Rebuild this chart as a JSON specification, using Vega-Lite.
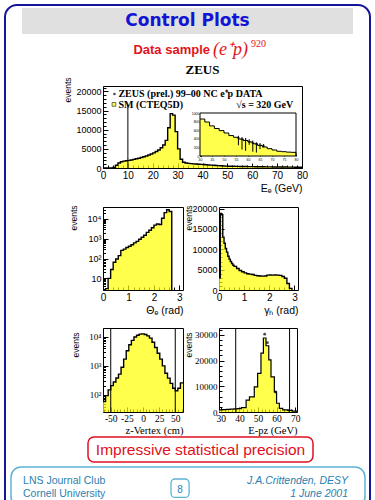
{
"$schema": "https://vega.github.io/schema/vega-lite/v6.json",
"padding": {"left": 4, "top": 0, "right": 0, "bottom": 0},
"background": "white",
"config": {
  "view": {"stroke": "black", "strokeWidth": 1},
  "font": "Liberation Sans",
  "axis": {"grid": false, "domain": false, "labelFont": "Liberation Sans", "titleFont": "Liberation Sans", "labelColor": "black", "titleColor": "black", "tickColor": "black", "titleFontWeight": "normal", "labelFlush": false, "labelOverlap": false, "labelBound": false, "tickWidth": 1},
  "axisLeft": {"titleAngle": 270, "titleAlign": "right", "titleBaseline": "bottom", "titleFontSize": 8.5},
  "concat": {"spacing": 0}
},
"datasets": {
  "ee": [{"x":0,"n":0},{"x":1,"n":0},{"x":2,"n":0},{"x":3,"n":20},{"x":4,"n":150},{"x":5,"n":700},{"x":6,"n":1300},{"x":7,"n":1650},{"x":8,"n":1800},{"x":9,"n":1900},{"x":10,"n":2000},{"x":11,"n":2100},{"x":12,"n":2250},{"x":13,"n":2400},{"x":14,"n":2550},{"x":15,"n":2750},{"x":16,"n":2950},{"x":17,"n":3150},{"x":18,"n":3400},{"x":19,"n":3650},{"x":20,"n":3950},{"x":21,"n":4300},{"x":22,"n":4700},{"x":23,"n":5300},{"x":24,"n":6000},{"x":25,"n":7200},{"x":26,"n":10500},{"x":27,"n":14200},{"x":28,"n":13800},{"x":29,"n":9500},{"x":30,"n":5000},{"x":31,"n":2300},{"x":32,"n":1500},{"x":33,"n":1300},{"x":34,"n":1200},{"x":35,"n":1130},{"x":36,"n":1080},{"x":37,"n":1030},{"x":38,"n":990},{"x":39,"n":950},{"x":40,"n":920},{"x":41,"n":860},{"x":42,"n":800},{"x":43,"n":750},{"x":44,"n":700},{"x":45,"n":650},{"x":46,"n":610},{"x":47,"n":570},{"x":48,"n":530},{"x":49,"n":500},{"x":50,"n":470},{"x":51,"n":455},{"x":52,"n":440},{"x":53,"n":425},{"x":54,"n":412},{"x":55,"n":400},{"x":56,"n":390},{"x":57,"n":380},{"x":58,"n":370},{"x":59,"n":360},{"x":60,"n":350},{"x":61,"n":340},{"x":62,"n":330},{"x":63,"n":320},{"x":64,"n":310},{"x":65,"n":300},{"x":66,"n":292},{"x":67,"n":284},{"x":68,"n":276},{"x":69,"n":268},{"x":70,"n":260},{"x":71,"n":254},{"x":72,"n":248},{"x":73,"n":242},{"x":74,"n":236},{"x":75,"n":230},{"x":76,"n":222},{"x":77,"n":215},{"x":78,"n":208},{"x":79,"n":200},{"x":80,"n":0}],
  "inset": [{"x":40,"n":860},{"x":42,"n":790},{"x":44,"n":700},{"x":46,"n":640},{"x":48,"n":590},{"x":50,"n":535},{"x":52,"n":475},{"x":54,"n":435},{"x":56,"n":395},{"x":58,"n":360},{"x":60,"n":325},{"x":62,"n":285},{"x":64,"n":245},{"x":66,"n":210},{"x":68,"n":170},{"x":70,"n":140},{"x":72,"n":110},{"x":74,"n":100},{"x":76,"n":90},{"x":78,"n":85},{"x":80,"n":0}],
  "insetpts": [{"x":56,"v":420,"lo":250,"hi":470},{"x":57.5,"v":390,"lo":150,"hi":440},{"x":59,"v":365,"lo":120,"hi":420},{"x":60.5,"v":335,"lo":260,"hi":390},{"x":62,"v":305,"lo":100,"hi":360},{"x":63.5,"v":275,"lo":80,"hi":320},{"x":65,"v":255,"lo":160,"hi":300},{"x":66.5,"v":232,"lo":200,"hi":280}],
  "theta": [{"x":0,"n":1},{"x":0.1,"n":3},{"x":0.2,"n":10},{"x":0.3,"n":28},{"x":0.4,"n":65},{"x":0.5,"n":95},{"x":0.6,"n":140},{"x":0.7,"n":260},{"x":0.8,"n":300},{"x":0.9,"n":360},{"x":1.0,"n":420},{"x":1.1,"n":500},{"x":1.2,"n":620},{"x":1.3,"n":740},{"x":1.4,"n":950},{"x":1.5,"n":1200},{"x":1.6,"n":1500},{"x":1.7,"n":2100},{"x":1.8,"n":2700},{"x":1.9,"n":3600},{"x":2.0,"n":4900},{"x":2.1,"n":5600},{"x":2.2,"n":5300},{"x":2.3,"n":11000},{"x":2.4,"n":21000},{"x":2.5,"n":29500},{"x":2.6,"n":24000},{"x":2.7,"n":1}],
  "gamma": [{"x":0,"n":3000},{"x":0.05,"n":18800},{"x":0.1,"n":18500},{"x":0.15,"n":13000},{"x":0.2,"n":11500},{"x":0.25,"n":10200},{"x":0.3,"n":9300},{"x":0.35,"n":8300},{"x":0.4,"n":7600},{"x":0.45,"n":7000},{"x":0.5,"n":6500},{"x":0.55,"n":6100},{"x":0.6,"n":5800},{"x":0.7,"n":5300},{"x":0.8,"n":4800},{"x":0.9,"n":4500},{"x":1.0,"n":4200},{"x":1.1,"n":4000},{"x":1.2,"n":3900},{"x":1.3,"n":3800},{"x":1.4,"n":3600},{"x":1.5,"n":3500},{"x":1.6,"n":3450},{"x":1.7,"n":3400},{"x":1.8,"n":3450},{"x":1.9,"n":3650},{"x":2.0,"n":3700},{"x":2.1,"n":3650},{"x":2.2,"n":3700},{"x":2.3,"n":3650},{"x":2.4,"n":3600},{"x":2.5,"n":3300},{"x":2.6,"n":2900},{"x":2.7,"n":1600},{"x":2.8,"n":400},{"x":2.9,"n":0}],
  "zv": [{"x":-62,"n":60},{"x":-58,"n":95},{"x":-54,"n":150},{"x":-50,"n":210},{"x":-46,"n":280},{"x":-42,"n":385},{"x":-38,"n":520},{"x":-34,"n":900},{"x":-30,"n":1700},{"x":-26,"n":3300},{"x":-22,"n":5300},{"x":-18,"n":7500},{"x":-14,"n":9800},{"x":-10,"n":11300},{"x":-6,"n":12300},{"x":-2,"n":12600},{"x":2,"n":12000},{"x":6,"n":10700},{"x":10,"n":9000},{"x":14,"n":6500},{"x":18,"n":4300},{"x":22,"n":2700},{"x":26,"n":1700},{"x":30,"n":1000},{"x":34,"n":560},{"x":38,"n":380},{"x":42,"n":250},{"x":46,"n":170},{"x":50,"n":140},{"x":54,"n":170},{"x":58,"n":260},{"x":62,"n":260}],
  "epz": [{"x":29,"n":800},{"x":31,"n":900},{"x":33,"n":1000},{"x":35,"n":1100},{"x":37,"n":1200},{"x":39,"n":1300},{"x":41,"n":1700},{"x":43.6,"n":4600},{"x":45.4,"n":5900},{"x":48,"n":9800},{"x":49.8,"n":15000},{"x":51.6,"n":22900},{"x":52.9,"n":28800},{"x":54.3,"n":25800},{"x":55.8,"n":20300},{"x":57,"n":13700},{"x":58.8,"n":7800},{"x":60,"n":3400},{"x":61.5,"n":1400},{"x":63.3,"n":850},{"x":66,"n":600},{"x":68.5,"n":350},{"x":71,"n":0}],
  "epzpts": [{"x":53.6,"n":30300},{"x":55.1,"n":27000},{"x":59.4,"n":7800}]
},
"bounds": "flush",
"spacing": 0,
"hconcat": [
  {"bounds": "flush", "spacing": 0, "vconcat": [
    {"width": 1, "height": 3, "data": {"values": [{}]}, "mark": "text", "encoding": {"text": {"value": ""}}, "view": {"stroke": null}},
    {"bounds": "flush", "spacing": 0, "hconcat": [
      {"width": 17, "height": 1, "data": {"values": [{}]}, "mark": "text", "encoding": {"text": {"value": ""}}, "view": {"stroke": null}},
      {"width": 331, "height": 26, "data": {"values": [{"t": "Control Plots"}]}, "mark": {"type": "text", "font": "DejaVu Sans", "fontSize": 17, "fontWeight": "bold", "color": "#1414d4", "baseline": "middle"}, "encoding": {"text": {"field": "t"}}, "view": {"fill": "#e0e0e0", "stroke": null}}
    ]},
    {"width": 1, "height": 26, "data": {"values": [{}]}, "mark": "text", "encoding": {"text": {"value": ""}}, "view": {"stroke": null}},
    {"bounds": "flush", "spacing": 0, "hconcat": [
      {"width": 47, "height": 1, "data": {"values": [{}]}, "mark": "text", "encoding": {"text": {"value": ""}}, "view": {"stroke": null}},
      {"width": 318, "height": 32, "view": {"stroke": null}, "data": {"values": [{"a": "Data sample", "b": "(e⁺p)", "c": "920"}]}, "layer": [
        {"mark": {"type": "text", "font": "Liberation Sans", "fontSize": 13, "fontWeight": "bold", "color": "#e3131b", "align": "right", "baseline": "middle", "dx": -1}, "encoding": {"text": {"field": "a"}}},
        {"mark": {"type": "text", "font": "Liberation Serif", "fontSize": 18, "fontStyle": "italic", "color": "#e3131b", "align": "left", "baseline": "middle", "dx": 2}, "encoding": {"text": {"field": "b"}}},
        {"mark": {"type": "text", "font": "Liberation Serif", "fontSize": 10, "color": "#e3131b", "align": "left", "baseline": "middle", "dx": 40, "dy": -6}, "encoding": {"text": {"field": "c"}}}
      ]}
    ]},
    {"width": 1, "height": 32, "data": {"values": [{}]}, "mark": "text", "encoding": {"text": {"value": ""}}, "view": {"stroke": null}},
    {"bounds": "flush", "spacing": 0, "hconcat": [
      {"width": 98, "height": 1, "data": {"values": [{}]}, "mark": "text", "encoding": {"text": {"value": ""}}, "view": {"stroke": null}},
      {"width": 199, "height": 7, "view": {"stroke": null}, "data": {"values": [{"t": "ZEUS"}]}, "mark": {"type": "text", "font": "Liberation Serif", "fontSize": 13, "fontWeight": "bold", "color": "black", "baseline": "middle"}, "encoding": {"text": {"field": "t"}}}
    ]},
    {"width": 1, "height": 20, "data": {"values": [{}]}, "mark": "text", "encoding": {"text": {"value": ""}}, "view": {"stroke": null}},
    {"bounds": "flush", "spacing": 0, "hconcat": [
      {"width": 98, "height": 1, "data": {"values": [{}]}, "mark": "text", "encoding": {"text": {"value": ""}}, "view": {"stroke": null}},
      {"width": 199, "height": 82,
       "resolve": {"scale": {"x": "independent", "y": "independent"}, "axis": {"x": "independent", "y": "independent"}},
       "layer": [
        {"resolve": {"axis": {"x": "independent", "y": "independent"}},
         "layer": [
          {"data": {"name": "ee"}, "mark": {"type": "area", "interpolate": "step-after", "color": "#ffff00", "line": {"color": "black", "strokeWidth": 1.4}},
           "encoding": {
             "x": {"field": "x", "type": "quantitative", "scale": {"domain": [0, 80], "nice": false, "zero": false},
                   "axis": {"orient": "bottom", "values": [0,2,4,6,8,10,12,14,16,18,20,22,24,26,28,30,32,34,36,38,40,42,44,46,48,50,52,54,56,58,60,62,64,66,68,70,72,74,76,78,80], "labelExpr": "datum.value % 10 === 0 ? '' + datum.value : ''", "labelOverlap": false, "tickSize": {"condition": {"test": "datum.value % 10 === 0", "value": -5}, "value": -3}, "labelPadding": 7, "labelFontSize": 10, "title": "Eₑ (GeV)", "titleAnchor": "end", "titleFontSize": 10.5, "titlePadding": 1}},
             "y": {"field": "n", "type": "quantitative", "scale": {"domain": [0, 21400], "nice": false},
                   "axis": {"orient": "left", "values": [0,1000,2000,3000,4000,5000,6000,7000,8000,9000,10000,11000,12000,13000,14000,15000,16000,17000,18000,19000,20000,21000], "labelExpr": "datum.value % 5000 === 0 ? '' + datum.value : ''", "labelOverlap": false, "tickSize": {"condition": {"test": "datum.value % 5000 === 0", "value": -5}, "value": -3}, "labelPadding": 7, "labelFontSize": 9, "title": "events", "titleX": -31, "titleY": -9}}
           }},
          {"data": {"values": [{"c": 10, "lo": 0, "hi": 16500}]}, "mark": {"type": "rule", "color": "black", "strokeWidth": 1}, "encoding": {"x": {"field": "c", "type": "quantitative", "axis": null}, "y": {"field": "lo", "type": "quantitative", "axis": null}, "y2": {"field": "hi"}}},
          {"data": {"values": [{}]}, "mark": {"type": "point", "shape": "circle", "filled": true, "color": "black", "size": 7}, "encoding": {"x": {"datum": 4.6, "type": "quantitative", "axis": null}, "y": {"datum": 19300, "type": "quantitative", "axis": null}}},
          {"data": {"values": [{}]}, "mark": {"type": "point", "shape": "square", "filled": true, "fill": "#ffff00", "stroke": "black", "strokeWidth": 0.8, "size": 14}, "encoding": {"x": {"datum": 4.4, "type": "quantitative", "axis": null}, "y": {"datum": 16600, "type": "quantitative", "axis": null}}},
          {"data": {"values": [{"t": "ZEUS (prel.) 99–00 NC e⁺p DATA"}]}, "mark": {"type": "text", "font": "Liberation Serif", "fontSize": 10, "fontWeight": "bold", "color": "black", "align": "left", "baseline": "alphabetic"}, "encoding": {"x": {"datum": 6.2, "type": "quantitative", "axis": null}, "y": {"datum": 18500, "type": "quantitative", "axis": null}, "text": {"field": "t"}}},
          {"data": {"values": [{"t": "SM (CTEQ5D)"}]}, "mark": {"type": "text", "font": "Liberation Serif", "fontSize": 10, "fontWeight": "bold", "color": "black", "align": "left", "baseline": "alphabetic"}, "encoding": {"x": {"datum": 6.2, "type": "quantitative", "axis": null}, "y": {"datum": 15700, "type": "quantitative", "axis": null}, "text": {"field": "t"}}},
          {"data": {"values": [{"t": "√s = 320 GeV"}]}, "mark": {"type": "text", "font": "Liberation Serif", "fontSize": 10, "fontWeight": "bold", "color": "black", "align": "right", "baseline": "alphabetic"}, "encoding": {"x": {"datum": 76.5, "type": "quantitative", "axis": null}, "y": {"datum": 15700, "type": "quantitative", "axis": null}, "text": {"field": "t"}}}
        ]},
        {"resolve": {"axis": {"x": "independent", "y": "independent"}},
         "layer": [
          {"data": {"values": [{}]}, "mark": {"type": "rect", "fill": "white", "stroke": null},
           "encoding": {"x": {"datum": 40, "type": "quantitative", "scale": {"domain": [40, 80], "range": [97, 193], "nice": false, "zero": false},
                              "axis": {"orient": "bottom", "offset": -12, "values": [40,45,50,55,60,65,70,75,80], "labelExpr": "'' + datum.value", "labelOverlap": false, "labelFontSize": 3.5, "tickSize": -1.5, "labelPadding": 2.5, "title": null}},
                        "x2": {"datum": 80},
                        "y": {"datum": 0, "type": "quantitative", "scale": {"domain": [0, 1000], "range": [70, 27], "nice": false},
                              "axis": {"orient": "left", "offset": -97, "values": [0,200,400,600,800,1000], "labelExpr": "'' + datum.value", "labelOverlap": false, "labelFontSize": 3.5, "tickSize": -1.5, "labelPadding": 2.5, "title": null}},
                        "y2": {"datum": 1000}}},
          {"data": {"name": "inset"}, "mark": {"type": "area", "interpolate": "step-after", "color": "#ffff00", "line": {"color": "black", "strokeWidth": 1}},
           "encoding": {"x": {"field": "x", "type": "quantitative", "axis": null}, "y": {"field": "n", "type": "quantitative", "axis": null}}},
          {"data": {"name": "insetpts"}, "mark": {"type": "rule", "color": "black", "strokeWidth": 1}, "encoding": {"x": {"field": "x", "type": "quantitative", "axis": null}, "y": {"field": "lo", "type": "quantitative", "axis": null}, "y2": {"field": "hi"}}},
          {"data": {"name": "insetpts"}, "mark": {"type": "tick", "orient": "horizontal", "color": "black", "size": 3, "thickness": 1}, "encoding": {"x": {"field": "x", "type": "quantitative", "axis": null}, "y": {"field": "v", "type": "quantitative", "axis": null}}},
          {"data": {"values": [{}]}, "mark": {"type": "rect", "filled": false, "stroke": "black", "strokeWidth": 1},
           "encoding": {"x": {"datum": 40, "type": "quantitative", "axis": null}, "x2": {"datum": 80}, "y": {"datum": 0, "type": "quantitative", "axis": null}, "y2": {"datum": 1000}}}
        ]}
       ]}
    ]},
    {"width": 1, "height": 121, "data": {"values": [{}]}, "mark": "text", "encoding": {"text": {"value": ""}}, "view": {"stroke": null}},
    {"bounds": "flush", "spacing": 0, "hconcat": [
      {"width": 98, "height": 1, "data": {"values": [{}]}, "mark": "text", "encoding": {"text": {"value": ""}}, "view": {"stroke": null}},
      {"width": 80, "height": 83, "data": {"name": "theta"}, "mark": {"type": "area", "interpolate": "step-after", "color": "#ffff00", "line": {"color": "black", "strokeWidth": 1.4}},
       "encoding": {
         "x": {"field": "x", "type": "quantitative", "scale": {"domain": [0, 3.1416], "nice": false, "zero": false},
               "axis": {"values": [0,0.2,0.4,0.6,0.8,1,1.2,1.4,1.6,1.8,2,2.2,2.4,2.6,2.8,3], "labelExpr": "datum.value % 1 === 0 ? '' + datum.value : ''", "labelOverlap": false, "tickSize": {"condition": {"test": "datum.value % 1 === 0", "value": -5}, "value": -3}, "labelPadding": 7, "labelFontSize": 10, "title": "Θₑ (rad)", "titleAnchor": "end", "titleFontSize": 10.5, "titlePadding": 1}},
         "y": {"field": "n", "type": "quantitative", "scale": {"type": "log", "domain": [2.57, 40400], "nice": false, "clamp": true},
               "axis": {"values": [3,4,5,6,7,8,9,10,20,30,40,50,60,70,80,90,100,200,300,400,500,600,700,800,900,1000,2000,3000,4000,5000,6000,7000,8000,9000,10000,20000,30000,40000], "labelExpr": "datum.value === 10 ? '10' : datum.value === 100 ? '10²' : datum.value === 1000 ? '10³' : datum.value === 10000 ? '10⁴' : ''", "labelOverlap": false, "tickSize": {"condition": {"test": "datum.value === 10 || datum.value === 100 || datum.value === 1000 || datum.value === 10000", "value": -5}, "value": -2.5}, "labelPadding": 7, "labelFontSize": 9, "title": "events", "titleX": -25, "titleY": -2}}
       }},
      {"width": 36, "height": 1, "data": {"values": [{}]}, "mark": "text", "encoding": {"text": {"value": ""}}, "view": {"stroke": null}},
      {"width": 79, "height": 83, "data": {"name": "gamma"}, "mark": {"type": "area", "interpolate": "step-after", "color": "#ffff00", "line": {"color": "black", "strokeWidth": 1.4}},
       "encoding": {
         "x": {"field": "x", "type": "quantitative", "scale": {"domain": [0, 3.1416], "nice": false, "zero": false},
               "axis": {"values": [0,0.2,0.4,0.6,0.8,1,1.2,1.4,1.6,1.8,2,2.2,2.4,2.6,2.8,3], "labelExpr": "datum.value % 1 === 0 ? '' + datum.value : ''", "labelOverlap": false, "tickSize": {"condition": {"test": "datum.value % 1 === 0", "value": -5}, "value": -3}, "labelPadding": 7, "labelFontSize": 10, "title": "γₕ (rad)", "titleAnchor": "end", "titleFontSize": 10.5, "titlePadding": 1}},
         "y": {"field": "n", "type": "quantitative", "scale": {"domain": [0, 20400], "nice": false},
               "axis": {"values": [0,1000,2000,3000,4000,5000,6000,7000,8000,9000,10000,11000,12000,13000,14000,15000,16000,17000,18000,19000,20000], "labelExpr": "datum.value % 5000 === 0 ? '' + datum.value : ''", "labelOverlap": false, "tickSize": {"condition": {"test": "datum.value % 5000 === 0", "value": -5}, "value": -3}, "labelPadding": 7, "labelFontSize": 9, "title": "events", "titleX": -26, "titleY": -2}}
       }}
    ]},
    {"width": 1, "height": 121, "data": {"values": [{}]}, "mark": "text", "encoding": {"text": {"value": ""}}, "view": {"stroke": null}},
    {"bounds": "flush", "spacing": 0, "hconcat": [
      {"width": 98, "height": 1, "data": {"values": [{}]}, "mark": "text", "encoding": {"text": {"value": ""}}, "view": {"stroke": null}},
      {"width": 80, "height": 84, "resolve": {"axis": {"x": "independent", "y": "independent"}}, "layer": [
        {"data": {"name": "zv"}, "mark": {"type": "area", "interpolate": "step-after", "color": "#ffff00", "line": {"color": "black", "strokeWidth": 1.4}},
         "encoding": {
           "x": {"field": "x", "type": "quantitative", "scale": {"domain": [-62, 62], "nice": false, "zero": false},
                 "axis": {"orient": "bottom", "values": [-60,-55,-50,-45,-40,-35,-30,-25,-20,-15,-10,-5,0,5,10,15,20,25,30,35,40,45,50,55,60], "labelExpr": "datum.value % 25 === 0 ? (datum.value < 0 ? '-' + abs(datum.value) : '' + datum.value) : ''", "labelOverlap": false, "tickSize": {"condition": {"test": "datum.value % 25 === 0", "value": -5}, "value": -3}, "labelPadding": 6, "labelFontSize": 9.5, "labelFont": "Liberation Serif", "title": "z-Vertex (cm)", "titleFont": "Liberation Serif", "titleAnchor": "end", "titleFontSize": 10.5, "titlePadding": 1}},
           "y": {"field": "n", "type": "quantitative", "scale": {"type": "log", "domain": [26, 20000], "nice": false, "clamp": true},
                 "axis": {"orient": "left", "values": [30,40,50,60,70,80,90,100,200,300,400,500,600,700,800,900,1000,2000,3000,4000,5000,6000,7000,8000,9000,10000,20000], "labelExpr": "datum.value === 100 ? '10²' : datum.value === 1000 ? '10³' : datum.value === 10000 ? '10⁴' : ''", "labelOverlap": false, "tickSize": {"condition": {"test": "datum.value === 100 || datum.value === 1000 || datum.value === 10000", "value": -5}, "value": -2.5}, "labelPadding": 7, "labelFontSize": 9, "labelFont": "Liberation Serif", "title": "events", "titleX": -23, "titleY": 4}}
         }},
        {"data": {"values": [{"c": -50}, {"c": 50}]}, "mark": {"type": "rule", "color": "black", "strokeWidth": 1}, "encoding": {"x": {"field": "c", "type": "quantitative", "axis": null}}}
      ]},
      {"width": 36, "height": 1, "data": {"values": [{}]}, "mark": "text", "encoding": {"text": {"value": ""}}, "view": {"stroke": null}},
      {"width": 78, "height": 84, "resolve": {"axis": {"x": "independent", "y": "independent"}}, "layer": [
        {"data": {"name": "epz"}, "mark": {"type": "area", "interpolate": "step-after", "color": "#ffff00", "line": {"color": "black", "strokeWidth": 1.2}},
         "encoding": {
           "x": {"field": "x", "type": "quantitative", "scale": {"domain": [29, 71], "nice": false, "zero": false},
                 "axis": {"orient": "bottom", "values": [30,32,34,36,38,40,42,44,46,48,50,52,54,56,58,60,62,64,66,68,70], "labelExpr": "datum.value % 10 === 0 ? '' + datum.value : ''", "labelOverlap": false, "tickSize": {"condition": {"test": "datum.value % 10 === 0", "value": -5}, "value": -3}, "labelPadding": 6, "labelFontSize": 9.5, "labelFont": "Liberation Serif", "title": "E-pz (GeV)", "titleFont": "Liberation Serif", "titleAnchor": "end", "titleFontSize": 10.5, "titlePadding": 1}},
           "y": {"field": "n", "type": "quantitative", "scale": {"domain": [0, 32700], "nice": false},
                 "axis": {"orient": "left", "values": [0,2000,4000,6000,8000,10000,12000,14000,16000,18000,20000,22000,24000,26000,28000,30000,32000], "labelExpr": "datum.value % 10000 === 0 ? '' + datum.value : ''", "labelOverlap": false, "tickSize": {"condition": {"test": "datum.value % 10000 === 0", "value": -5}, "value": -3}, "labelPadding": 7, "labelFontSize": 9, "labelFont": "Liberation Serif", "title": "events", "titleX": -26, "titleY": 4}}
         }},
        {"data": {"values": [{"c": 38}, {"c": 67}]}, "mark": {"type": "rule", "color": "black", "strokeWidth": 1}, "encoding": {"x": {"field": "c", "type": "quantitative", "axis": null}}},
        {"data": {"name": "epzpts"}, "mark": {"type": "point", "shape": "circle", "filled": true, "color": "black", "size": 8}, "encoding": {"x": {"field": "x", "type": "quantitative", "axis": null}, "y": {"field": "n", "type": "quantitative", "axis": null}}}
      ]}
    ]},
    {"width": 1, "height": 109, "data": {"values": [{}]}, "mark": "text", "encoding": {"text": {"value": ""}}, "view": {"stroke": null}},
    {"bounds": "flush", "spacing": 0, "hconcat": [
      {"width": 83, "height": 1, "data": {"values": [{}]}, "mark": "text", "encoding": {"text": {"value": ""}}, "view": {"stroke": null}},
      {"width": 225, "height": 25, "view": {"stroke": "#e01020", "strokeWidth": 1.5, "cornerRadius": 6, "fill": "white"}, "data": {"values": [{"t": "Impressive statistical precision"}]}, "mark": {"type": "text", "font": "Liberation Sans", "fontSize": 15.5, "color": "#e01020", "baseline": "middle"}, "encoding": {"text": {"field": "t"}}}
    ]},
    {"width": 1, "height": 30, "data": {"values": [{}]}, "mark": "text", "encoding": {"text": {"value": ""}}, "view": {"stroke": null}},
    {"bounds": "flush", "spacing": 0, "hconcat": [
      {"width": 6, "height": 1, "data": {"values": [{}]}, "mark": "text", "encoding": {"text": {"value": ""}}, "view": {"stroke": null}},
      {"width": 354, "height": 40, "view": {"stroke": "#5db3d3", "strokeWidth": 1.5, "cornerRadius": 10, "fill": null},
       "layer": [
        {"data": {"values": [{"t": "LNS Journal Club"}]}, "mark": {"type": "text", "align": "left", "baseline": "alphabetic", "fontSize": 10.5, "color": "#2a80b0"},
         "encoding": {"x": {"datum": 0.034, "type": "quantitative", "scale": {"domain": [0, 1], "nice": false, "zero": false}, "axis": null}, "y": {"datum": 0.42, "type": "quantitative", "scale": {"domain": [0, 1], "reverse": true, "nice": false, "zero": false}, "axis": null}, "text": {"field": "t"}}},
        {"data": {"values": [{"t": "Cornell University"}]}, "mark": {"type": "text", "align": "left", "baseline": "alphabetic", "fontSize": 10.5, "color": "#2a80b0"},
         "encoding": {"x": {"datum": 0.034, "type": "quantitative", "axis": null}, "y": {"datum": 0.76, "type": "quantitative", "axis": null}, "text": {"field": "t"}}},
        {"data": {"values": [{"t": "J.A.Crittenden, DESY"}]}, "mark": {"type": "text", "align": "right", "baseline": "alphabetic", "fontSize": 10.5, "fontStyle": "italic", "color": "#2a80b0"},
         "encoding": {"x": {"datum": 0.952, "type": "quantitative", "axis": null}, "y": {"datum": 0.42, "type": "quantitative", "axis": null}, "text": {"field": "t"}}},
        {"data": {"values": [{"t": "1 June 2001"}]}, "mark": {"type": "text", "align": "right", "baseline": "alphabetic", "fontSize": 10.5, "fontStyle": "italic", "color": "#2a80b0"},
         "encoding": {"x": {"datum": 0.952, "type": "quantitative", "axis": null}, "y": {"datum": 0.76, "type": "quantitative", "axis": null}, "text": {"field": "t"}}},
        {"data": {"values": [{}]}, "mark": {"type": "rect", "filled": false, "stroke": "#5db3d3", "strokeWidth": 1.3, "cornerRadius": 4},
         "encoding": {"x": {"datum": 0.452, "type": "quantitative", "axis": null}, "x2": {"datum": 0.503}, "y": {"datum": 0.3, "type": "quantitative", "axis": null}, "y2": {"datum": 0.76}}},
        {"data": {"values": [{"t": "8"}]}, "mark": {"type": "text", "align": "center", "baseline": "alphabetic", "fontSize": 10, "color": "#2a80b0"},
         "encoding": {"x": {"datum": 0.4775, "type": "quantitative", "axis": null}, "y": {"datum": 0.64, "type": "quantitative", "axis": null}, "text": {"field": "t"}}}
       ]}
    ]},
    {"width": 1, "height": 40, "data": {"values": [{}]}, "mark": "text", "encoding": {"text": {"value": ""}}, "view": {"stroke": null}}
  ]},
  {"width": 365, "height": 510, "data": {"values": [{}]}, "mark": "text", "encoding": {"text": {"value": ""}}, "view": {"stroke": "#15159a", "strokeWidth": 2, "cornerRadius": 12, "fill": null}}
]
}
